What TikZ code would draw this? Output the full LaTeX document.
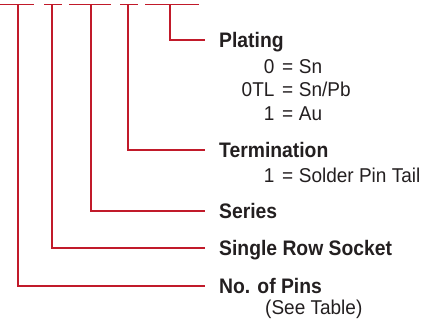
\documentclass[tikz,border=0pt]{standalone}
\usepackage{fontspec}
\setmainfont{Liberation Sans}
\usepackage{xcolor}
\usetikzlibrary{positioning}
\definecolor{pnred}{RGB}{193,26,42}
\definecolor{pnink}{RGB}{35,31,32}
% narrow the face a little, as in the part-number key
\newcommand{\cond}[1]{\scalebox{0.92}[1]{#1}}
\newcommand{\condr}[1]{\scalebox{0.95}[1]{#1}}
\newcommand{\optline}[2]{\makebox[35pt][r]{#1}\hspace{8pt}=\hspace{6pt}#2}

\begin{document}
\begin{tikzpicture}[
  x=1pt, y=1pt,
  lead/.style={draw=pnred, line width=1.5pt},
  lbl/.style={font=\fontsize{21}{25}\selectfont\bfseries, text=pnink, inner sep=0pt, text height=15pt, text depth=0pt, anchor=west},
  opts/.style={font=\fontsize{20}{23.5}\selectfont, text=pnink, inner sep=0pt, anchor=base west}
]
\useasboundingbox (0,0) rectangle (443,-321);

% tops of the code fields
\coordinate (pinsT) at (18,-4.5);
\coordinate (rowT) at (52,-4.5);
\coordinate (seriesT) at (91,-4.5);
\coordinate (termT) at (128,-4.5);
\coordinate (platT) at (170,-4.5);

\draw[lead] ([xshift=-18pt]pinsT) -- ([xshift=16pt]pinsT);
\draw[lead] ([xshift=-8pt]rowT) -- ([xshift=10pt]rowT);
\draw[lead] ([xshift=-22pt]seriesT) -- ([xshift=20pt]seriesT);
\draw[lead] ([xshift=-8pt]termT) -- ([xshift=10pt]termT);
\draw[lead] ([xshift=-25pt]platT) -- ([xshift=29pt]platT);

% labels
\node[lbl] (plating) at (219,-40) {\cond{Plating}};
\node[opts] (platopts) at (241,-73) {\condr{\begin{tabular}[t]{@{}l@{}}\optline{0}{Sn}\\ \optline{0TL}{Sn/Pb}\\ \optline{1}{Au}\end{tabular}}};
\node[lbl] (term) at (219,-150) {\cond{Termination}};
\node[opts] (termopts) at (241,-182) {\condr{\optline{1}{Solder Pin Tail}}};
\node[lbl] (series) at (219,-211) {\cond{Series}};
\node[lbl] (row) at (219,-248) {\cond{Single Row Socket}};
\node[lbl] (pins) at (219,-286) {\cond{No. of Pins}};
\node[opts] (pinsnote) at (265,-314) {\condr{(See Table)}};

% leaders
\draw[lead] (platT) |- ([xshift=-14pt]plating.west);
\draw[lead] (termT) |- ([xshift=-14pt]term.west);
\draw[lead] (seriesT) |- ([xshift=-14pt]series.west);
\draw[lead] (rowT) |- ([xshift=-14pt]row.west);
\draw[lead] (pinsT) |- ([xshift=-14pt]pins.west);
\end{tikzpicture}
\end{document}
